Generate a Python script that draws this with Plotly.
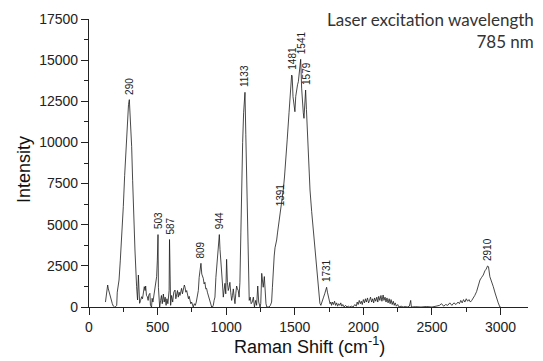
import plotly.graph_objects as go

# Raman spectrum
shift = [120, 124, 130, 136, 141, 146, 152, 158, 164, 170, 177, 185, 195, 202, 206, 209, 214, 219, 228, 238,
         250, 260, 270, 280, 288, 294, 300, 311, 318, 323, 335, 347, 354, 360, 366, 369, 376, 384, 390, 396,
         403, 409, 413, 419, 425, 431, 436, 444, 448, 456, 460, 466, 473, 478, 485, 493, 498, 503, 506, 510,
         515, 522, 528, 534, 542, 548, 555, 562, 568, 575, 580, 584, 587, 590, 595, 602, 610, 618, 627, 633,
         640, 645, 651, 657, 663, 669, 675, 681, 687, 695, 700, 706, 712, 719, 725, 730, 736, 742, 748, 755,
         760, 768, 775, 782, 790, 797, 803, 810, 816, 822, 828, 833, 839, 845, 851, 857, 863, 870, 876, 882,
         888, 894, 900, 906, 912, 918, 925, 930, 937, 944, 950, 955, 961, 967, 973, 979, 985, 991, 997, 1003,
         1009, 1015, 1021, 1027, 1033, 1040, 1046, 1052, 1058, 1064, 1070, 1076, 1082, 1088, 1094, 1100, 1107, 1113, 1120, 1127,
         1137, 1143, 1149, 1155, 1162, 1168, 1175, 1182, 1190, 1198, 1206, 1215, 1222, 1230, 1237, 1242, 1247, 1252, 1259, 1264,
         1270, 1278, 1284, 1290, 1296, 1305, 1313, 1322, 1331, 1337, 1343, 1350, 1356, 1362, 1368, 1374, 1380, 1386, 1391, 1397,
         1405, 1416, 1425, 1433, 1445, 1458, 1470, 1477, 1481, 1487, 1494, 1501, 1507, 1514, 1520, 1526, 1533, 1538, 1543, 1550,
         1557, 1562, 1567, 1573, 1579, 1585, 1591, 1600, 1611, 1623, 1635, 1647, 1659, 1671, 1677, 1683, 1690, 1696, 1702, 1710,
         1718, 1725, 1732, 1738, 1745, 1751, 1757, 1763, 1768, 1775, 1782, 1790, 1797, 1805, 1812, 1820, 1828, 1835, 1843, 1850,
         1860, 1870, 1880, 1890, 1900, 1912, 1925, 1938, 1948, 1955, 1962, 1970, 1978, 1985, 1992, 2000, 2008, 2015, 2022, 2030,
         2038, 2045, 2052, 2060, 2068, 2075, 2082, 2090, 2098, 2105, 2112, 2120, 2128, 2135, 2144, 2150, 2158, 2165, 2172, 2180,
         2188, 2195, 2202, 2210, 2218, 2225, 2232, 2240, 2250, 2260, 2275, 2290, 2305, 2320, 2335, 2345, 2350, 2380, 2420, 2460,
         2500, 2530, 2555, 2570, 2585, 2600, 2615, 2630, 2645, 2660, 2675, 2690, 2700, 2710, 2720, 2730, 2740, 2750, 2760, 2770,
         2780, 2790, 2801, 2812, 2825, 2838, 2850, 2862, 2874, 2886, 2895, 2905, 2912, 2922, 2935, 2947, 2960, 2971, 2983, 2995,
         3000]

intensity = [300, 626, 1000, 1337, 1100, 930, 700, 528, 350, 200, 60, 0, 30, 100, 900, 1134, 1440, 1640, 2800, 4071,
             6094, 8000, 9740, 11300, 12300, 12600, 11800, 9740, 7700, 6094, 3463, 1236, 425, 1944, 900, 225, 400, 626, 500, 830,
             1236, 1000, 1276, 700, 626, 400, 730, 830, 100, 0, 528, 300, 730, 1236, 1500, 1840, 2800, 4400, 1200, 200,
             0, 400, 700, 200, 790, 300, 600, 100, 500, 200, 626, 1000, 4100, 800, 100, 700, 300, 900, 1033, 500,
             800, 1000, 600, 900, 700, 1000, 1134, 800, 1100, 1337, 1200, 900, 1000, 800, 500, 650, 400, 200, 300, 100,
             0, 200, 100, 300, 600, 1000, 1800, 2300, 2655, 2000, 1900, 1742, 1400, 1500, 1100, 1134, 900, 700, 600, 400,
             150, 0, 0, 100, 400, 600, 1800, 2450, 3300, 4000, 4400, 3500, 2900, 2450, 1400, 600, 900, 1440, 800, 2897,
             1500, 1000, 1200, 1500, 900, 400, 700, 1100, 600, 200, 800, 1276, 1100, 1000, 600, 1500, 4500, 7716, 10000, 11800,
             13045, 10500, 7716, 4200, 1000, 400, 600, 200, 300, 600, 0, 400, 100, 1276, 300, 0, 0, 200, 2045, 1640,
             1200, 1850, 800, 200, 0, 0, 0, 100, 300, 1200, 2400, 3100, 3600, 3800, 4071, 4500, 4880, 5200, 5500, 5790,
             6200, 7109, 7900, 8700, 10200, 11800, 13200, 14096, 14035, 12780, 12300, 11866, 12800, 13386, 13500, 13690, 14200, 14700, 15050, 13300,
             12170, 11800, 11465, 12500, 13185, 12000, 10755, 8800, 7109, 5800, 4679, 3300, 2200, 1033, 500, 225, 100, 300, 400, 600,
             800, 1000, 1200, 900, 600, 400, 200, 300, 100, 300, 150, 350, 100, 250, 50, 200, 100, 250, 50, 150,
             0, 100, 0, 50, 0, 50, 0, 150, 50, 300, 150, 400, 200, 350, 150, 450, 250, 500, 300, 550,
             250, 400, 600, 300, 500, 250, 550, 350, 600, 300, 650, 400, 700, 350, 730, 400, 600, 300, 550, 250,
             500, 200, 450, 150, 350, 100, 250, 50, 150, 0, 50, 0, 30, 0, 50, 400, 0, 20, 0, 30,
             0, 50, 100, 200, 50, 150, 100, 250, 100, 250, 150, 300, 200, 400, 250, 450, 300, 500, 350, 450,
             300, 400, 528, 700, 930, 1300, 1640, 1800, 1944, 2200, 2300, 2490, 2450, 1840, 1550, 1236, 850, 528, 250, 0,
             0]

# Peak labels
peak_labels = ["290", "503", "587", "809", "944", "1133", "1391", "1481", "1541", "1579", "1731", "2910"]
peak_x = [290, 503, 587, 815, 948, 1135, 1393, 1481, 1548, 1585, 1730, 2905]
peak_y = [12600, 4400, 4100, 2655, 4400, 13045, 5790, 14096, 15050, 13185, 1200, 2490]

x_ticks = [0, 500, 1000, 1500, 2000, 2500, 3000]
y_ticks = [0, 2500, 5000, 7500, 10000, 12500, 15000, 17500]
y_tick_text = [str(v) for v in y_ticks]
x_tick_text = [str(v) for v in x_ticks]

fig = go.Figure()
fig.add_trace(go.Scatter(x=shift, y=intensity, mode="lines",
                         line=dict(color="#1a1a1a", width=0.8), showlegend=False,
                         hoverinfo="skip"))

for lab, px, py in zip(peak_labels, peak_x, peak_y):
    fig.add_annotation(x=px, y=py, text=lab, textangle=-90, showarrow=False,
                       xanchor="center", yanchor="bottom", yshift=3,
                       font=dict(family="Liberation Sans, Arial", size=10, color="#222"))

fig.add_annotation(xref="paper", yref="paper", x=1.0, xshift=8, y=1.04,
                   xanchor="right", yanchor="top", align="right", showarrow=False,
                   text="Laser excitation wavelength<br>785 nm",
                   font=dict(family="Lato, Open Sans", size=17, color="#333"))

# axis titles
fig.add_annotation(xref="paper", yref="paper", x=0.503, y=-0.132, showarrow=False,
                   xanchor="center", yanchor="middle",
                   text="Raman Shift (cm<sup>-1</sup>)",
                   font=dict(family="Liberation Sans, Arial", size=18, color="#111"))
fig.add_annotation(xref="paper", yref="paper", x=-0.148, y=0.476, showarrow=False,
                   xanchor="center", yanchor="middle", textangle=-90,
                   text="Intensity",
                   font=dict(family="Liberation Sans, Arial", size=18, color="#111"))

axis_font = dict(family="Liberation Sans, Arial", size=14, color="#222")
fig.update_layout(
    width=543, height=361,
    margin=dict(l=89, r=15, t=19, b=54, autoexpand=False),
    plot_bgcolor="white", paper_bgcolor="white",
    xaxis=dict(range=[0, 3200], tickvals=x_ticks, ticktext=x_tick_text, showline=True,
               linecolor="#222", linewidth=1.2, automargin=False,
               ticks="outside", ticklen=7, tickcolor="#222", showgrid=False, zeroline=False,
               tickfont=axis_font,
               minor=dict(dtick=250, ticks="outside", ticklen=4, tickcolor="#222")),
    yaxis=dict(range=[0, 17500], tickvals=y_ticks, ticktext=y_tick_text, showline=True,
               linecolor="#222", linewidth=1.2, automargin=False,
               ticks="outside", ticklen=7, tickcolor="#222", showgrid=False, zeroline=False,
               tickfont=axis_font,
               minor=dict(dtick=1250, ticks="outside", ticklen=4, tickcolor="#222")),
)

fig.write_html("out.html", config={"displayModeBar": False},
               post_script="document.body.style.margin='0px';")
